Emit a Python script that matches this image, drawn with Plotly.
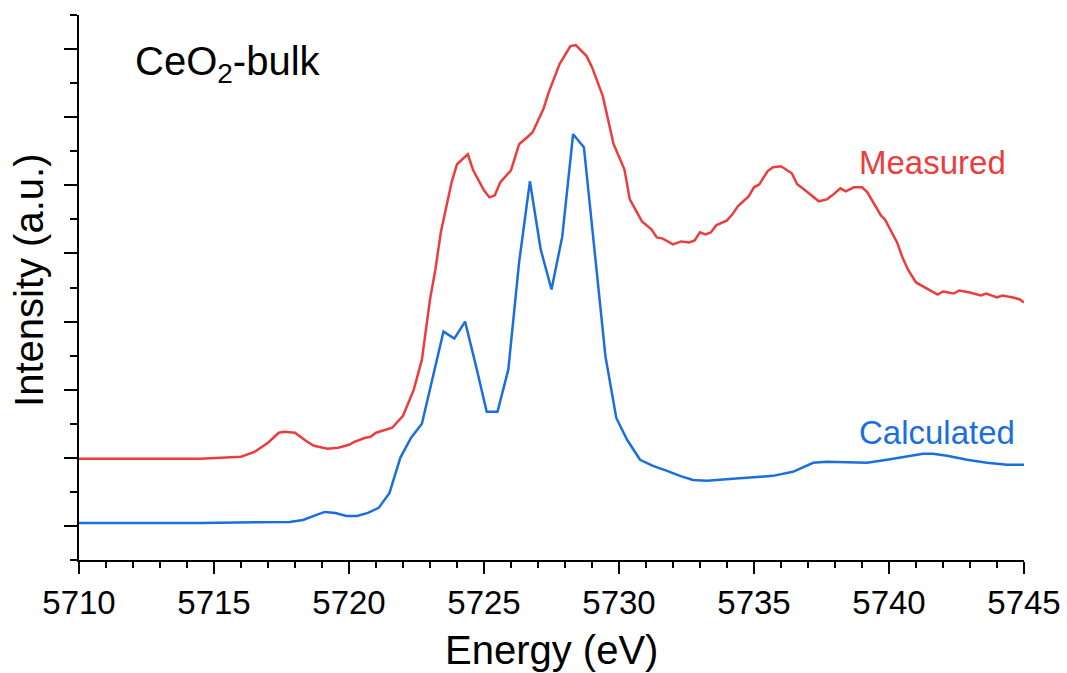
import plotly.graph_objects as go

# Measured spectrum (red)
measured_E = [5710.0, 5714.5, 5716.0, 5716.5, 5717.0, 5717.4, 5717.6, 5718.0, 5718.4, 5718.7,
              5719.2, 5719.6, 5720.0, 5720.2, 5720.6, 5720.8, 5721.0, 5721.6, 5722.0, 5722.4,
              5722.7, 5723.0, 5723.2, 5723.4, 5723.8, 5724.0, 5724.4, 5724.6, 5725.0, 5725.2,
              5725.4, 5725.6, 5726.0, 5726.3, 5726.6, 5726.8, 5727.2, 5727.4, 5727.8, 5728.2,
              5728.4, 5728.8, 5729.0, 5729.4, 5729.8, 5730.0, 5730.2, 5730.4, 5730.85, 5731.2,
              5731.4, 5731.6, 5732.0, 5732.3, 5732.6, 5732.8, 5733.0, 5733.2, 5733.4, 5733.6,
              5734.0, 5734.2, 5734.4, 5734.8, 5735.0, 5735.2, 5735.5, 5735.7, 5736.0, 5736.4,
              5736.6, 5736.8, 5737.15, 5737.4, 5737.7, 5737.9, 5738.2, 5738.4, 5738.7, 5739.0,
              5739.2, 5739.4, 5739.7, 5739.85, 5740.1, 5740.3, 5740.5, 5740.7, 5741.0, 5741.4,
              5741.8, 5742.0, 5742.4, 5742.6, 5743.0, 5743.4, 5743.6, 5744.0, 5744.2, 5744.6,
              5744.85, 5745.0]
measured_I = [1.485, 1.485, 1.515, 1.588, 1.721, 1.868, 1.882, 1.868, 1.750, 1.676,
              1.632, 1.647, 1.691, 1.735, 1.794, 1.809, 1.868, 1.941, 2.118, 2.500,
              2.941, 3.824, 4.265, 4.809, 5.544, 5.809, 5.956, 5.721, 5.426, 5.324,
              5.353, 5.544, 5.721, 6.103, 6.206, 6.279, 6.618, 6.868, 7.279, 7.544,
              7.559, 7.397, 7.235, 6.809, 6.103, 5.926, 5.735, 5.294, 4.971, 4.853,
              4.735, 4.721, 4.632, 4.676, 4.662, 4.691, 4.809, 4.779, 4.809, 4.912,
              4.985, 5.074, 5.191, 5.338, 5.471, 5.515, 5.706, 5.765, 5.779, 5.676,
              5.515, 5.456, 5.338, 5.265, 5.294, 5.353, 5.456, 5.412, 5.471, 5.471,
              5.397, 5.265, 5.059, 5.000, 4.809, 4.662, 4.440, 4.265, 4.074, 3.985,
              3.897, 3.941, 3.912, 3.956, 3.926, 3.882, 3.912, 3.853, 3.882, 3.853,
              3.824, 3.779]

# Calculated spectrum (blue)
calc_E = [5710.0, 5714.5, 5717.8, 5718.3, 5718.7, 5719.1, 5719.5, 5719.9, 5720.3, 5720.7,
          5721.1, 5721.5, 5721.9, 5722.3, 5722.7, 5723.5, 5723.9, 5724.3, 5724.7, 5725.1,
          5725.5, 5725.9, 5726.3, 5726.7, 5727.1, 5727.5, 5727.9, 5728.3, 5728.7, 5729.1,
          5729.5, 5729.9, 5730.3, 5730.78, 5731.26, 5731.78, 5732.26, 5732.74, 5733.26, 5734.22,
          5735.7, 5736.44, 5737.19, 5737.7, 5739.19, 5739.93, 5740.67, 5741.26, 5741.63, 5742.15,
          5742.89, 5743.63, 5744.37, 5745.0]
calc_I = [0.544, 0.544, 0.559, 0.588, 0.647, 0.706, 0.691, 0.647, 0.647, 0.691,
          0.765, 0.985, 1.500, 1.794, 2.000, 3.353, 3.250, 3.500, 2.853, 2.176,
          2.176, 2.794, 4.368, 5.559, 4.559, 3.971, 4.750, 6.250, 6.059, 4.485,
          2.985, 2.085, 1.765, 1.471, 1.382, 1.309, 1.235, 1.176, 1.162, 1.191,
          1.235, 1.294, 1.426, 1.441, 1.426, 1.471, 1.515, 1.559, 1.559, 1.529,
          1.471, 1.426, 1.397, 1.397]

x_major_ticks = [5710, 5715, 5720, 5725, 5730, 5735, 5740, 5745]
x_minor_ticks = list(range(5710, 5746))
y_major_ticks = [0.5, 1.5, 2.5, 3.5, 4.5, 5.5, 6.5, 7.5]
y_minor_ticks = [0, 1, 2, 3, 4, 5, 6, 7, 8]

RED = "#EB3D3D"
BLUE = "#1B6FDD"
FONT = "Arial, Liberation Sans, sans-serif"

fig = go.Figure()
fig.add_trace(go.Scatter(x=measured_E, y=measured_I, mode="lines",
                         line=dict(color=RED, width=2.5), name="Measured", showlegend=False))
fig.add_trace(go.Scatter(x=calc_E, y=calc_I, mode="lines",
                         line=dict(color=BLUE, width=2.5), name="Calculated", showlegend=False))

fig.add_annotation(x=5712.0, y=7.28, xref="x", yref="y", text="CeO<sub>2</sub>-bulk",
                   showarrow=False, xanchor="left", yanchor="middle",
                   font=dict(family=FONT, size=40, color="black"))
fig.add_annotation(x=5744.4, y=5.84, xref="x", yref="y", text="Measured",
                   showarrow=False, xanchor="right", yanchor="middle",
                   font=dict(family=FONT, size=33, color=RED))
fig.add_annotation(x=5744.75, y=1.87, xref="x", yref="y", text="Calculated",
                   showarrow=False, xanchor="right", yanchor="middle",
                   font=dict(family=FONT, size=33, color=BLUE))

# Axis titles
fig.add_annotation(x=0.5, y=0, xref="paper", yref="paper", text="Energy (eV)",
                   showarrow=False, xanchor="center", yanchor="middle", yshift=-90,
                   font=dict(family=FONT, size=40, color="black"))
fig.add_annotation(x=0, y=0.512, xref="paper", yref="paper", text="Intensity (a.u.)",
                   showarrow=False, xanchor="center", yanchor="middle", xshift=-50,
                   textangle=-90, font=dict(family=FONT, size=40, color="black"))

fig.update_layout(
    width=1067, height=673,
    margin=dict(l=79, r=43, t=15, b=113, autoexpand=False),
    paper_bgcolor="white", plot_bgcolor="white",
    font=dict(family=FONT, color="black"),
    xaxis=dict(range=[5710, 5745], showgrid=False, zeroline=False, automargin=False,
               showline=True, linecolor="black", linewidth=2,
               tickmode="array", tickvals=x_major_ticks,
               ticks="outside", ticklen=12, tickwidth=2, tickcolor="black",
               tickfont=dict(family=FONT, size=33, color="black"),
               minor=dict(tickvals=x_minor_ticks, ticks="outside", ticklen=6, tickwidth=2,
                          tickcolor="black", showgrid=False)),
    yaxis=dict(range=[0, 8], showgrid=False, zeroline=False, automargin=False,
               showline=True, linecolor="black", linewidth=2,
               tickmode="array", tickvals=y_major_ticks, showticklabels=False,
               ticks="outside", ticklen=13, tickwidth=2, tickcolor="black",
               minor=dict(tickvals=y_minor_ticks, ticks="outside", ticklen=7, tickwidth=2,
                          tickcolor="black", showgrid=False)),
)

fig.write_html("out.html", config={"displayModeBar": False},
               post_script="document.body.style.margin='0';document.body.style.overflow='hidden';")
